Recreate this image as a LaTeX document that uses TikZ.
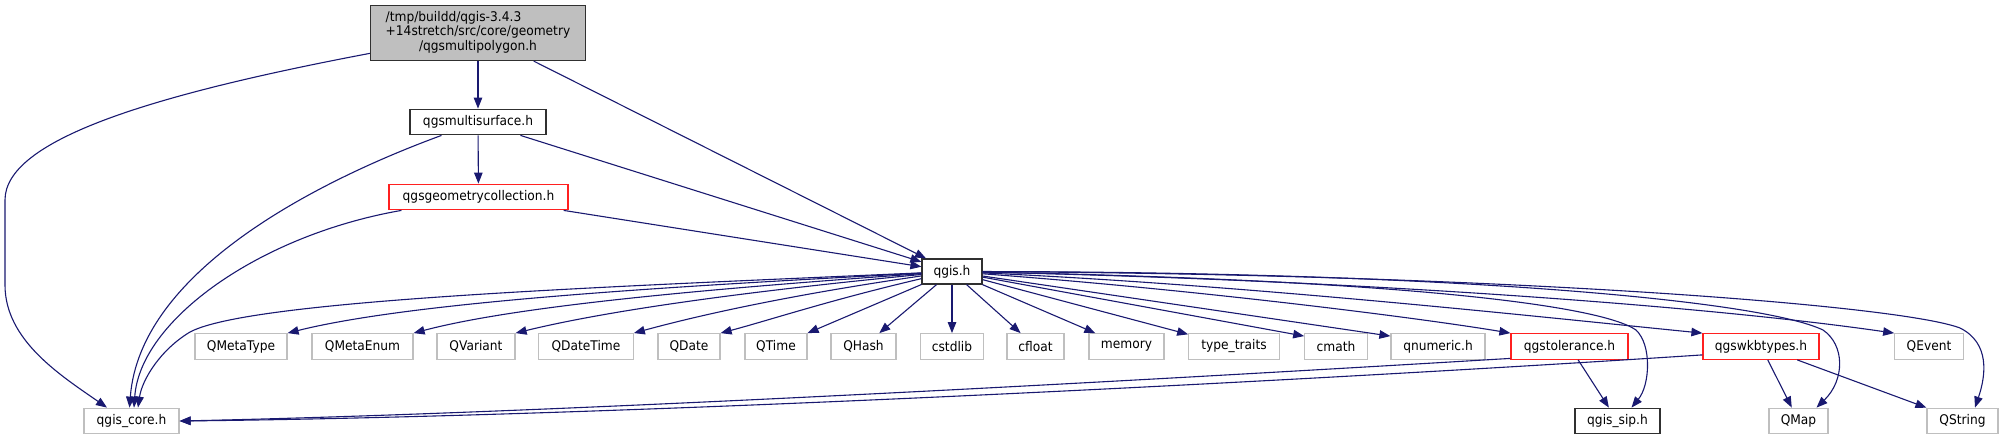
\documentclass[tikz,border=0pt]{standalone}
\usepackage{fontspec}
\setmainfont{DejaVu Sans}[FakeStretch=0.92]
\usetikzlibrary{arrows.meta,calc}
\definecolor{navy}{HTML}{191970}
\definecolor{lgray}{HTML}{BFBFBF}
\definecolor{rbord}{HTML}{FF2020}
\definecolor{dbord}{HTML}{303030}
\definecolor{topfill}{HTML}{BFBFBF}
\tikzset{
  box/.style={draw, line width=1.2pt, inner sep=0pt, minimum height=25.6pt,
    font=\fontsize{13.3}{14.7}\selectfont, text=black},
  extbox/.style={box, draw=lgray},
  redbox/.style={box, draw=rbord},
  blkbox/.style={box, draw=dbord},
  edge/.style={draw=navy, line width=1.1pt, -{Triangle[length=11pt,width=8.5pt]}}
}
\begin{document}
\begin{tikzpicture}[x=1pt,y=-1pt]
\useasboundingbox (0,0) rectangle (2003,440);
% nodes
\node[blkbox, fill=topfill, minimum width=215pt, minimum height=55pt] (top) at (478,33)
  {\renewcommand\arraystretch{1}\begin{tabular}{@{}l@{}}/tmp/buildd/qgis-3.4.3\\+14stretch/src/core/geometry\\\multicolumn{1}{@{}c@{}}{/qgsmultipolygon.h}\end{tabular}};
\node[blkbox, minimum width=136pt] (ms) at (478,122) {qgsmultisurface.h};
\node[redbox, minimum width=179pt] (gc) at (478.5,197) {qgsgeometrycollection.h};
\node[blkbox, minimum width=60pt, minimum height=25pt] (qgis) at (952,271.5) {qgis.h};
% middle row
\node[extbox, minimum width=92pt] (mt) at (241,346.5) {QMetaType};
\node[extbox, minimum width=101pt] (me) at (362.5,346.5) {QMetaEnum};
\node[extbox, minimum width=78pt] (qv) at (476,346.5) {QVariant};
\node[extbox, minimum width=94.5pt] (qdt) at (586,346.5) {QDateTime};
\node[extbox, minimum width=62pt] (qd) at (689,346.5) {QDate};
\node[extbox, minimum width=62pt] (qt) at (776,346.5) {QTime};
\node[extbox, minimum width=65pt] (qh) at (863.5,346.5) {QHash};
\node[extbox, minimum width=62.5pt] (cs) at (952,346.5) {cstdlib};
\node[extbox, minimum width=57pt] (cf) at (1035.5,346.5) {cfloat};
\node[extbox, minimum width=75pt] (mem) at (1126.5,346.5) {memory};
\node[extbox, minimum width=90.5pt] (tt) at (1234,346.5) {type\_traits};
\node[extbox, minimum width=62.5pt] (cm) at (1336,346.5) {cmath};
\node[extbox, minimum width=94pt] (qn) at (1438,346.5) {qnumeric.h};
\node[redbox, minimum width=117pt] (tol) at (1569.5,346.5) {qgstolerance.h};
\node[redbox, minimum width=116pt] (wkb) at (1761,346.5) {qgswkbtypes.h};
\node[extbox, minimum width=68.5pt] (qe) at (1929,346.5) {QEvent};
% bottom row
\node[extbox, minimum width=95pt] (core) at (131.5,421) {qgis\_core.h};
\node[blkbox, minimum width=85pt] (sip) at (1617.5,421) {qgis\_sip.h};
\node[extbox, minimum width=59pt] (qmap) at (1798.5,421) {QMap};
\node[extbox, minimum width=71pt] (qs) at (1962.5,421) {QString};
% edges from top node
\draw[edge] (top) .. controls (150,95) and (5,140) .. (5,200) -- (5,285)
  .. controls (5,340) and (60,375) .. ($(core.north)+(-24.5,0)$);
\draw[edge] (top) -- (ms);
\draw[edge] (top) -- (qgis);
% edges from qgsmultisurface.h
\draw[edge] (ms) .. controls (320,180) and (140,270) .. ($(core.north)+(-2,0)$);
\draw[edge] (ms) -- (gc);
\draw[edge] (ms) -- (qgis);
% edges from qgsgeometrycollection.h
\draw[edge] (gc) .. controls (260,235) and (140,320) .. ($(core.north)+(2.5,0)$);
\draw[edge] (gc) -- (qgis);
% edges from qgis.h
\draw[edge] (qgis) .. controls (600,287) and (250,300) .. (190,332)
  .. controls (160,350) and (142,380) .. ($(core.north)+(6.5,0)$);
\draw[edge] (qgis) .. controls (700,285) and (420,300) .. (mt.north east);
\draw[edge] (qgis) .. controls (720,288) and (520,305) .. (me.north east);
\draw[edge] (qgis) .. controls (750,291) and (610,310) .. (qv.north east);
\draw[edge] (qgis) .. controls (790,295) and (700,315) .. (qdt.north east);
\draw[edge] (qgis) .. controls (830,300) and (770,320) .. (qd.north east);
\draw[edge] (qgis) -- (qt.north east);
\draw[edge] (qgis) -- (qh);
\draw[edge] (qgis) -- (cs);
\draw[edge] (qgis) -- (cf);
\draw[edge] (qgis) -- (mem);
\draw[edge] (qgis) -- (tt);
\draw[edge] (qgis) -- ($(cm.north west)+(0,3)$);
\draw[edge] (qgis) -- ($(qn.north west)+(0,3)$);
\draw[edge] (qgis) .. controls (1200,290) and (1420,318) .. (tol.north west);
\draw[edge] (qgis) .. controls (1250,285) and (1550,318) .. (wkb.north west);
\draw[edge] (qgis) .. controls (1350,280) and (1700,305) .. (qe.north west);
\draw[edge] (qgis) .. controls (1400,280) and (1600,305) .. (1636,330)
  .. controls (1652,345) and (1650,385) .. ($(sip.north)+(14,0)$);
\draw[edge] (qgis) .. controls (1450,272) and (1760,300) .. (1823,330)
  .. controls (1845,345) and (1845,380) .. ($(qmap.north)+(18,0)$);
\draw[edge] (qgis) .. controls (1500,274) and (1900,305) .. (1960,328)
  .. controls (1990,343) and (1986,375) .. ($(qs.north)+(12.5,0)$);
% edges from qgstolerance.h
\draw[edge] ($(tol.south west)+(0,-1.5)$) .. controls (1250,374) and (600,412) .. (core.east);
\draw[edge] (tol) -- (sip);
% edges from qgswkbtypes.h
\draw[edge] ($(wkb.south west)+(0,-5)$) .. controls (1350,378) and (650,416) .. (core.east);
\draw[edge] (wkb) -- (qmap);
\draw[edge] (wkb) -- (qs);
\end{tikzpicture}
\end{document}
